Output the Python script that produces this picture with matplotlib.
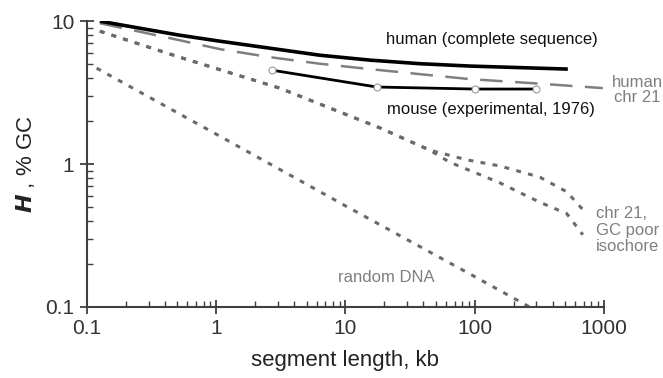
import matplotlib.pyplot as plt
import numpy as np

plt.rcParams['font.family'] = ['Liberation Sans', 'DejaVu Sans']

# human, complete sequence
human_x = [0.126, 0.52, 1.07, 2.6, 6.3, 15.4, 37.5, 92, 525]
human_y = [10.0, 7.98, 7.24, 6.47, 5.78, 5.34, 5.04, 4.85, 4.62]

# human chr 21
chr21_x = [0.126, 0.52, 1.07, 2.6, 6.3, 15.4, 37.5, 92, 280, 980]
chr21_y = [9.68, 7.36, 6.37, 5.60, 5.04, 4.62, 4.26, 3.93, 3.68, 3.40]

# mouse, experimental 1976
mouse_x = [2.7, 17.5, 100, 300]
mouse_y = [4.54, 3.46, 3.35, 3.35]

# chr 21, GC poor isochore (two curves sharing the first part)
iso_common_x = [0.126, 0.52, 3.1, 18.5, 45]
iso_common_y = [8.51, 5.60, 3.40, 1.79, 1.25]
iso_upper_x = [87, 156, 319, 515, 686]
iso_upper_y = [1.07, 0.97, 0.81, 0.64, 0.48]
iso_lower_x = [64, 156, 319, 515, 686]
iso_lower_y = [1.03, 0.74, 0.54, 0.45, 0.32]

# random DNA
rand_x = [0.119, 1, 10, 100, 276]
rand_y = [4.69, 1.62, 0.51, 0.163, 0.098]

fig = plt.figure(figsize=(6.63, 3.78), dpi=100)
ax = fig.add_axes([0.131, 0.188, 0.78, 0.756])

grey = '#7f7f7f'
dotgrey = '#6a6a6a'

ax.plot(human_x, human_y, color='black', lw=2.6, solid_capstyle='butt', zorder=4)
ax.plot(chr21_x, chr21_y, color=grey, lw=1.8, dashes=(9, 5), zorder=3)
ax.plot(mouse_x, mouse_y, color='black', lw=2.0, marker='o', ms=5,
        mfc='white', mec='#999999', mew=0.8, zorder=5)

dot = dict(color=dotgrey, lw=2.2, dashes=(1.6, 2.4))
ax.plot(iso_common_x + iso_upper_x, iso_common_y + iso_upper_y, **dot)
ax.plot(iso_common_x + iso_lower_x, iso_common_y + iso_lower_y, **dot)
ax.plot(rand_x, rand_y, **dot)

ax.set_xscale('log')
ax.set_yscale('log')
ax.set_xlim(0.1, 1000)
ax.set_ylim(0.1, 10)

ax.set_xticks([0.1, 1, 10, 100, 1000])
ax.set_xticklabels(['0.1', '1', '10', '100', '1000'])
ax.set_yticks([0.1, 1, 10])
ax.set_yticklabels(['0.1', '1', '10'])

for side in ['top', 'right']:
    ax.spines[side].set_visible(False)
for side in ['left', 'bottom']:
    ax.spines[side].set_color('#404040')
    ax.spines[side].set_linewidth(1.5)

ax.tick_params(which='major', direction='inout', length=10, width=1.3,
               color='#404040', labelsize=15, labelcolor='#333333', pad=4)
ax.tick_params(which='minor', direction='in', length=4, width=1.0, color='#404040')

ax.set_xlabel('segment length, kb', fontsize=16, color='#222222', labelpad=8)
ax.set_ylabel(r'$\boldsymbol{H}$ , % GC', fontsize=16, color='#222222', labelpad=6)

txt = dict(fontsize=12, transform=ax.transData)
ax.text(20.5, 7.4, 'human (complete sequence)', ha='left', va='center', color='#111111', **txt)
ax.text(21, 2.42, 'mouse (experimental, 1976)', ha='left', va='center', color='#111111', **txt)
ax.text(1824, 3.3, 'human\nchr 21', ha='center', va='center', color=grey,
        linespacing=1.0, clip_on=False, **txt)
ax.text(865, 0.345, 'chr 21,\nGC poor\nisochore', ha='left', va='center', color=grey,
        linespacing=1.1, clip_on=False, **txt)
ax.text(8.7, 0.16, 'random DNA', ha='left', va='center', color=grey, **txt)

fig.savefig('out.png', dpi=100)
